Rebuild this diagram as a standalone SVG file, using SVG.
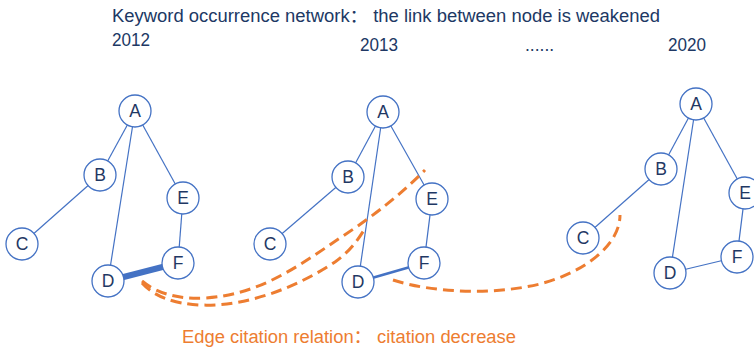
<svg xmlns="http://www.w3.org/2000/svg" width="754" height="350" viewBox="0 0 754 350">
  <style>
    .title { font-family: "Liberation Sans", "Noto Sans CJK SC", sans-serif; font-size: 17.5px; fill: #203864; }
    .note { font-family: "Liberation Sans", "Noto Sans CJK SC", sans-serif; font-size: 18px; fill: #ED7D31; }
    .edge { stroke: #4472C4; stroke-width: 1.2; fill: none; }
    .cite { stroke: #ED7D31; stroke-width: 3; fill: none; stroke-dasharray: 11 6; }
    .node circle { fill: #ffffff; stroke: #4472C4; stroke-width: 1.3; }
    .node text { font-family: "Liberation Sans", sans-serif; font-size: 17.5px; fill: #1F3864; text-anchor: middle; dominant-baseline: central; }
  </style>
  <rect width="754" height="350" fill="#ffffff"/>

  <!-- headings -->
  <text class="title" x="112" y="22" textLength="548" lengthAdjust="spacingAndGlyphs">Keyword occurrence network：  the link between node is weakened</text>
  <text class="title" x="112" y="46" textLength="38" lengthAdjust="spacingAndGlyphs">2012</text>
  <text class="title" x="360" y="51" textLength="38" lengthAdjust="spacingAndGlyphs">2013</text>
  <text class="title" x="525" y="51">......</text>
  <text class="title" x="668" y="51" textLength="38" lengthAdjust="spacingAndGlyphs">2020</text>

  <!-- connectors -->
  <g id="connectors">
    <!-- 2012 -->
    <line class="edge" x1="135" y1="111" x2="100" y2="175"/>
    <line class="edge" x1="135" y1="111" x2="108" y2="281"/>
    <line class="edge" x1="135" y1="111" x2="183" y2="198"/>
    <line class="edge" x1="100" y1="175" x2="22" y2="244"/>
    <line class="edge" x1="183" y1="198" x2="178" y2="263"/>
    <line class="edge" x1="108" y1="281" x2="178" y2="263" style="stroke-width:6"/>
    <!-- 2013 -->
    <line class="edge" x1="383" y1="112" x2="348" y2="177"/>
    <line class="edge" x1="383" y1="112" x2="358" y2="282"/>
    <line class="edge" x1="383" y1="112" x2="432" y2="199"/>
    <line class="edge" x1="348" y1="177" x2="270" y2="244"/>
    <line class="edge" x1="432" y1="199" x2="424" y2="263"/>
    <line class="edge" x1="358" y1="282" x2="424" y2="263" style="stroke-width:2.8"/>
    <!-- 2020 -->
    <line class="edge" x1="696" y1="104" x2="661" y2="169"/>
    <line class="edge" x1="696" y1="104" x2="670" y2="273"/>
    <line class="edge" x1="696" y1="104" x2="745" y2="193"/>
    <line class="edge" x1="661" y1="169" x2="583" y2="238"/>
    <line class="edge" x1="745" y1="193" x2="737" y2="257"/>
    <line class="edge" x1="670" y1="273" x2="737" y2="257"/>
  </g>

  <!-- nodes: 2012 -->
  <g id="n2012-A" class="node"><circle cx="135" cy="111" r="16"/><text x="135" y="111">A</text></g>
  <g id="n2012-B" class="node"><circle cx="100" cy="175" r="16"/><text x="100" y="175">B</text></g>
  <g id="n2012-C" class="node"><circle cx="22" cy="244" r="16"/><text x="22" y="244">C</text></g>
  <g id="n2012-D" class="node"><circle cx="108" cy="281" r="16"/><text x="108" y="281">D</text></g>
  <g id="n2012-E" class="node"><circle cx="183" cy="198" r="16"/><text x="183" y="198">E</text></g>
  <g id="n2012-F" class="node"><circle cx="178" cy="263" r="16"/><text x="178" y="263">F</text></g>

  <!-- nodes: 2013 -->
  <g id="n2013-A" class="node"><circle cx="383" cy="112" r="16"/><text x="383" y="112">A</text></g>
  <g id="n2013-B" class="node"><circle cx="348" cy="177" r="16"/><text x="348" y="177">B</text></g>
  <g id="n2013-C" class="node"><circle cx="270" cy="244" r="16"/><text x="270" y="244">C</text></g>
  <g id="n2013-D" class="node"><circle cx="358" cy="282" r="16"/><text x="358" y="282">D</text></g>
  <g id="n2013-E" class="node"><circle cx="432" cy="199" r="16"/><text x="432" y="199">E</text></g>
  <g id="n2013-F" class="node"><circle cx="424" cy="263" r="16"/><text x="424" y="263">F</text></g>

  <!-- nodes: 2020 -->
  <g id="n2020-A" class="node"><circle cx="696" cy="104" r="16"/><text x="696" y="104">A</text></g>
  <g id="n2020-B" class="node"><circle cx="661" cy="169" r="16"/><text x="661" y="169">B</text></g>
  <g id="n2020-C" class="node"><circle cx="583" cy="238" r="16"/><text x="583" y="238">C</text></g>
  <g id="n2020-D" class="node"><circle cx="670" cy="273" r="16"/><text x="670" y="273">D</text></g>
  <g id="n2020-E" class="node"><circle cx="745" cy="193" r="16"/><text x="745" y="193">E</text></g>
  <g id="n2020-F" class="node"><circle cx="737" cy="257" r="16"/><text x="737" y="257">F</text></g>

  <!-- citation links between edges -->
  <g id="citations">
    <path class="cite" d="M142,281 Q165,300 205,298 C260,295 300,265 340,238 C375,215 400,195 425,170"/>
    <path class="cite" d="M142,283 Q160,303 200,305 C250,307 300,285 335,262 Q352,250 364,230"/>
    <path class="cite" d="M393,280 C430,292 490,296 540,284 C585,272 620,245 620,215"/>
  </g>

  <text class="note" x="182" y="343" textLength="334" lengthAdjust="spacingAndGlyphs">Edge citation relation：  citation decrease</text>
</svg>
